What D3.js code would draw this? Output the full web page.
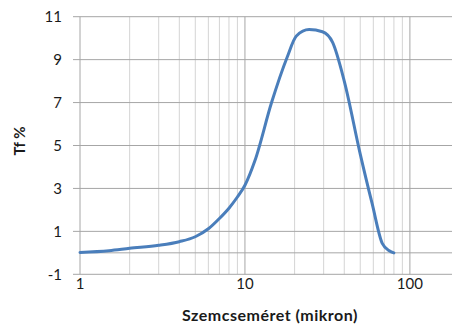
<!DOCTYPE html>
<html><head><meta charset="utf-8">
<script src="https://cdn.jsdelivr.net/npm/d3@7"></script>
<style>body{margin:0;background:#fff}svg{display:block}</style>
</head><body>
<svg id="c" width="452" height="327"></svg>
<script>
const sizes = [1, 1.5, 2, 3, 4, 5, 6, 7, 8, 9, 10, 11.5, 14.5, 18, 20.5, 24.5, 29.5, 34, 40, 50, 59, 68, 75, 80];
const values = [0.02, 0.1, 0.21, 0.35, 0.52, 0.75, 1.12, 1.6, 2.08, 2.6, 3.15, 4.3, 7.0, 9.1, 10.1, 10.4, 10.3, 9.8, 8.0, 4.6, 2.3, 0.44, 0.1, 0.0];
const yTicks = [-1, 1, 3, 5, 7, 9, 11];
const xTicks = [1, 10, 100];
const xTitle = "Szemcseméret (mikron)";
const yTitle = "Tf %";

const svg = d3.select("#c");
const font = "Lato, 'Open Sans', sans-serif";
const x = d3.scaleLog().domain([1, 180]).range([80, 452]);
const y = d3.scaleLinear().domain([-1, 11]).range([274.3, 16.7]);

// minor vertical gridlines
const minors = [];
for (let d = 1; d < 100; d *= 10) for (let k = 2; k <= 9; k++) minors.push(d * k);
svg.append("g").selectAll("line").data(minors).join("line")
  .attr("x1", d => x(d)).attr("x2", d => x(d))
  .attr("y1", y(11)).attr("y2", y(-1))
  .attr("stroke", "#d4d4d4").attr("stroke-width", 1);
// major vertical
svg.append("g").selectAll("line").data(xTicks).join("line")
  .attr("x1", d => x(d)).attr("x2", d => x(d))
  .attr("y1", y(11)).attr("y2", y(-1))
  .attr("stroke", "#a6a6a6").attr("stroke-width", 1);
// horizontal gridlines with ticks
svg.append("g").selectAll("line").data(yTicks).join("line")
  .attr("x1", 73).attr("x2", 452)
  .attr("y1", d => y(d)).attr("y2", d => y(d))
  .attr("stroke", "#a6a6a6").attr("stroke-width", 1);
// axis line at 0
svg.append("line").attr("x1", x(1)).attr("x2", 452)
  .attr("y1", y(0)).attr("y2", y(0))
  .attr("stroke", "#a6a6a6").attr("stroke-width", 1);

// y labels
svg.append("g").selectAll("text").data(yTicks).join("text")
  .attr("x", 62).attr("y", d => y(d) + 5.5)
  .attr("text-anchor", "end").attr("font-family", font).attr("font-size", 15)
  .attr("fill", "#1a1a1a").text(d => d);
// x labels
svg.append("g").selectAll("text").data(xTicks).join("text")
  .attr("x", d => x(d)).attr("y", 289)
  .attr("text-anchor", "middle").attr("font-family", font).attr("font-size", 15)
  .attr("fill", "#1a1a1a").text(d => d);

// titles
svg.append("text").attr("x", 270).attr("y", 321).attr("text-anchor", "middle")
  .attr("font-family", font).attr("font-size", 16).attr("font-weight", "bold")
  .attr("letter-spacing", 0.5)
  .attr("fill", "#1a1a1a").text(xTitle);
svg.append("text").attr("transform", "translate(25,141) rotate(-90)")
  .attr("text-anchor", "middle").attr("font-family", font).attr("font-size", 15)
  .attr("font-weight", "bold").attr("fill", "#1a1a1a").text(yTitle);

// line
const line = d3.line().x((d, i) => x(sizes[i])).y(d => y(d)).curve(d3.curveMonotoneX);
svg.append("path").datum(values).attr("d", line)
  .attr("fill", "none").attr("stroke", "#4a7ebb").attr("stroke-width", 3)
  .attr("stroke-linecap", "round").attr("stroke-linejoin", "round");
</script>
</body></html>
